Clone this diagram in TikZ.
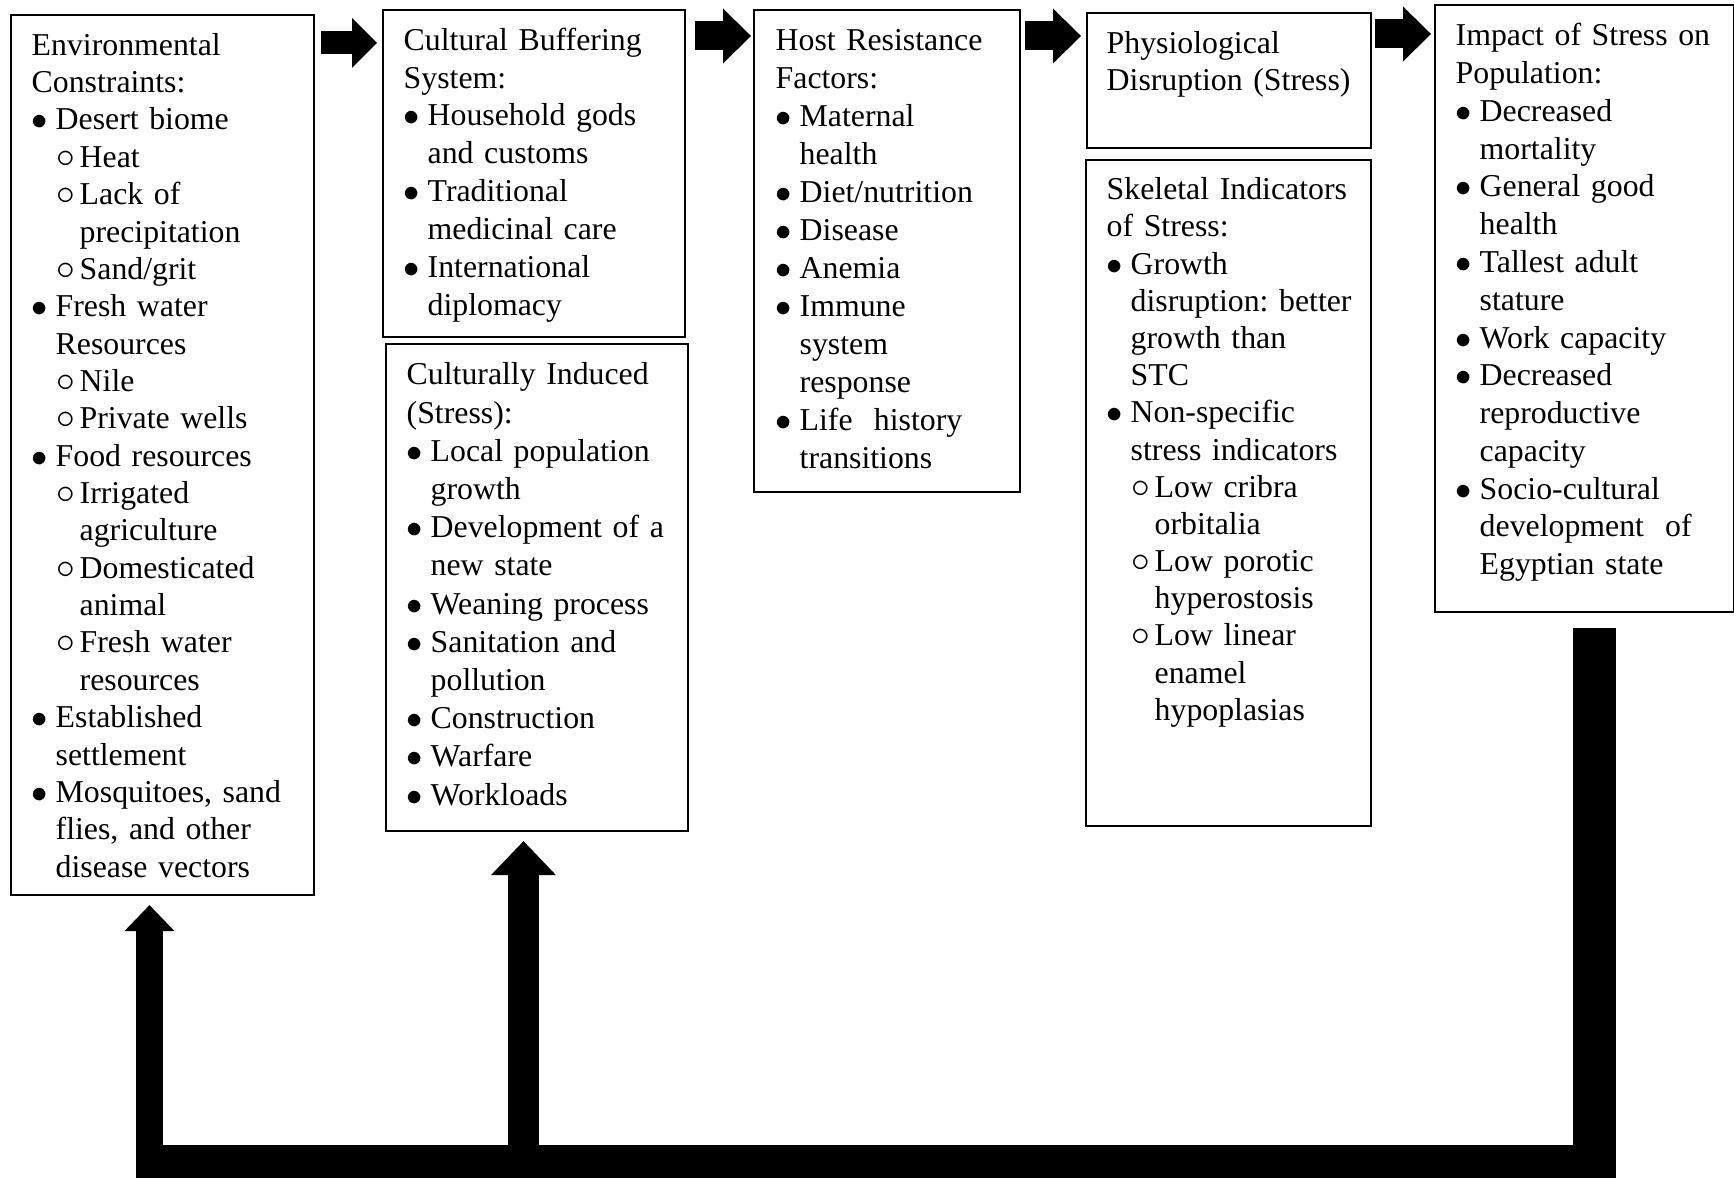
\documentclass[tikz,border=0pt]{standalone}
\usepackage{fontspec}
\setmainfont{Liberation Serif}
\usepackage{tikz}
\usetikzlibrary{positioning,arrows.meta,calc}
\setlength{\parindent}{0pt}
\frenchspacing
\newcommand{\nxt}{\hfil\break}
\newcommand{\blt}{\par\hangindent=2.4mm\hangafter=1\noindent\makebox[2.4mm][l]{$\bullet$}}
\newcommand{\crc}{\par\hangindent=4.8mm\hangafter=1\noindent\hspace*{2.5mm}\makebox[2.3mm][l]{\scalebox{1.15}{$\circ$}}}

\begin{document}
\begin{tikzpicture}[x=0.1mm,y=-0.1mm,
  b/.style={draw,line width=0.6pt,anchor=north west,inner sep=0pt},
  t/.style={anchor=north west,inner sep=0pt,text width=45mm,font=\fontsize{9.05pt}{#1}\selectfont},
  t/.default=10.63pt,
  a/.style={line width=2.9mm,-{Triangle[length=2.8mm,width=5.5mm,line width=0pt]}},
  u/.style={shorten >=0.9mm}]
  \useasboundingbox (0,0) rectangle (1734,1178);
  \node[b,minimum width=30.3mm,minimum height=88mm] (env) at (10,14) {};
  \node[b,minimum width=30.2mm,minimum height=32.7mm] (buf) at (382,9) {};
  \node[b,minimum width=30.2mm,minimum height=48.7mm] (ind) at (385,343) {};
  \node[b,minimum width=26.6mm,minimum height=48.2mm] (host) at (753,9) {};
  \node[b,minimum width=28.4mm,minimum height=13.5mm] (phys) at (1086,12) {};
  \node[b,minimum width=28.5mm,minimum height=66.6mm] (skel) at (1085,159) {};
  \node[b,minimum width=29.9mm,minimum height=60.7mm] (imp) at (1434,4) {};

  \node[t,below right=1.44mm and 2.1mm of env.north west] (envT) {\strut Environmental\nxt Constraints:
    \blt Desert biome\crc Heat\crc Lack of\nxt precipitation\crc Sand/grit
    \blt Fresh water\nxt Resources\crc Nile\crc Private wells
    \blt Food resources\crc Irrigated\nxt agriculture\crc Domesticated\nxt animal\crc Fresh water\nxt resources
    \blt Established\nxt settlement
    \blt Mosquitoes, sand\nxt flies, and other\nxt disease vectors\par};
  \node[t=10.78pt,below right=1.40mm and 2.1mm of buf.north west] (bufT) {\strut Cultural Buffering\nxt System:
    \blt Household gods\nxt and customs\blt Traditional\nxt medicinal care\blt International\nxt diplomacy\par};
  \node[t=10.87pt,below right=1.44mm and 2.1mm of ind.north west] (indT) {\strut Culturally Induced\nxt (Stress):
    \blt Local population\nxt growth\blt Development of a\nxt new state\blt Weaning process
    \blt Sanitation and\nxt pollution\blt Construction\blt Warfare\blt Workloads\par};
  \node[t=10.81pt,below right=1.40mm and 2.2mm of host.north west] (hostT) {\strut Host Resistance\nxt Factors:
    \blt Maternal\nxt health\blt Diet/nutrition\blt Disease\blt Anemia
    \blt Immune\nxt system\nxt response\blt Life\ \ history\nxt transitions\par};
  \node[t,below right=1.44mm and 2.0mm of phys.north west] (physT) {\strut Physiological\nxt Disruption (Stress)\par};
  \node[t=10.58pt,below right=1.40mm and 2.1mm of skel.north west] (skelT) {\strut Skeletal Indicators\nxt of Stress:
    \blt Growth\nxt disruption: better\nxt growth than\nxt STC
    \blt Non-specific\nxt stress indicators\crc Low cribra\nxt orbitalia\crc Low porotic\nxt hyperostosis
    \crc Low linear\nxt enamel\nxt hypoplasias\par};
  \node[t=10.75pt,below right=1.47mm and 2.1mm of imp.north west] (impT) {\strut Impact of Stress on\nxt Population:
    \blt Decreased\nxt mortality\blt General good\nxt health\blt Tallest adult\nxt stature\blt Work capacity
    \blt Decreased\nxt reproductive\nxt capacity\blt Socio-cultural\nxt development\ \ of\nxt Egyptian state\par};

  \draw[a,line width=2.3mm,-{Triangle[length=2.5mm,width=5mm,line width=0pt]},shorten <=0.6mm,shorten >=0.5mm]
    ($(env.north east)+(0,29)$) -- ($(buf.north west)+(0,34)$);
  \draw[a,shorten <=0.9mm,shorten >=0.2mm] ($(buf.north east)+(0,27)$) -- ($(host.north west)+(0,27)$);
  \draw[a,shorten <=0.4mm,shorten >=0.5mm] ($(host.north east)+(0,27)$) -- ($(phys.north west)+(0,24)$);
  \draw[a,shorten <=0.3mm,shorten >=0.3mm] ($(phys.north east)+(0,22)$) -- ($(imp.north west)+(0,30)$);

  \coordinate (fbL) at (149.5,1150);
  \coordinate (fbM) at (523.5,1150);
  \coordinate (fbR) at (1594.5,628);
  \fill (1573,628) rectangle (1616,1178);
  \fill (136,1145) rectangle (1616,1178);
  \draw[u,line width=2.7mm,-{Triangle[length=2.6mm,width=5mm,line width=0pt]}] (fbL) -- (env.south -| fbL);
  \draw[u,line width=3.1mm,-{Triangle[length=3.4mm,width=6.5mm,line width=0pt]}] (fbM) -- (ind.south -| fbM);
\end{tikzpicture}
\end{document}
